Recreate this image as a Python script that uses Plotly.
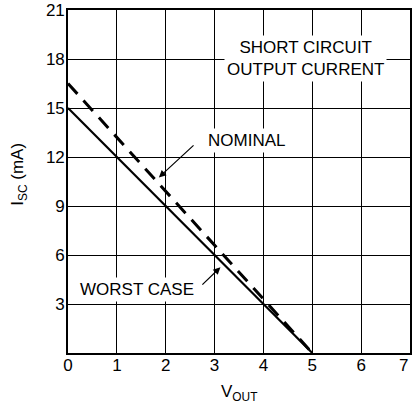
import plotly.graph_objects as go

# Short-circuit output current vs. output voltage
v_out = [0, 5]
isc_worst = [15, 0]
isc_nominal = [16.5, 0]

x_ticks = [0, 1, 2, 3, 4, 5, 6, 7]
y_ticks = [3, 6, 9, 12, 15, 18, 21]

FONT = "Liberation Sans, Arial, sans-serif"
TXT = dict(family=FONT, size=17, color="black")

fig = go.Figure()

fig.add_trace(go.Scatter(
    x=v_out, y=isc_worst, mode="lines",
    line=dict(color="black", width=2.2), hoverinfo="skip", showlegend=False,
))
fig.add_trace(go.Scatter(
    x=v_out, y=isc_nominal, mode="lines",
    line=dict(color="black", width=3, dash="14px,9px"), hoverinfo="skip", showlegend=False,
))

annotations = [
    # text labels on white boxes
    dict(x=4.86, y=18.05, xref="x", yref="y",
         text="SHORT CIRCUIT<br>OUTPUT CURRENT", showarrow=False,
         font=TXT, bgcolor="white", borderpad=2, align="center"),
    dict(x=3.65, y=13.0, xref="x", yref="y",
         text="NOMINAL", showarrow=False,
         font=TXT, bgcolor="white", borderpad=2),
    dict(x=1.41, y=3.86, xref="x", yref="y",
         text="WORST CASE", showarrow=False,
         font=TXT, bgcolor="white", borderpad=2),
    # leader arrows
    dict(x=1.86, y=10.75, xref="x", yref="y",
         ax=2.6, ay=12.8, axref="x", ayref="y",
         text="", showarrow=True, arrowhead=2, arrowsize=1.2,
         arrowwidth=1.2, arrowcolor="black"),
    dict(x=3.12, y=5.25, xref="x", yref="y",
         ax=2.72, ay=4.1, axref="x", ayref="y",
         text="", showarrow=True, arrowhead=2, arrowsize=1.2,
         arrowwidth=1.2, arrowcolor="black"),
    # last x tick label sits on the right edge of the figure
    dict(x=x_ticks[-1], y=0, xref="x", yref="paper", yshift=-12,
         text=str(x_ticks[-1]), showarrow=False, xanchor="right",
         yanchor="middle", font=TXT),
    # axis titles
    dict(x=-0.18, y=0.521, xref="paper", yref="paper",
         text="I<sub>SC</sub> (mA)", showarrow=False, textangle=-90,
         font=TXT),
    dict(x=0.5, y=-0.118, xref="paper", yref="paper",
         text="V<sub>OUT</sub>", showarrow=False, yanchor="middle",
         font=TXT),
]

fig.update_layout(
    width=413, height=407,
    margin=dict(l=68, r=1, t=10, b=54),
    paper_bgcolor="white", plot_bgcolor="white",
    annotations=annotations,
    xaxis=dict(
        range=[0, 7], tickvals=x_ticks[:-1], ticktext=[str(v) for v in x_ticks[:-1]],
        showgrid=True, gridcolor="black", gridwidth=1.4,
        showline=True, linecolor="black", linewidth=1.6, mirror=True,
        ticks="", zeroline=False, ticklabelstandoff=-4,
        tickfont=TXT,
    ),
    yaxis=dict(
        range=[0, 21], tickvals=y_ticks, ticktext=[str(v) for v in y_ticks],
        showgrid=True, gridcolor="black", gridwidth=1.4,
        showline=True, linecolor="black", linewidth=1.6, mirror=True,
        ticks="", zeroline=False, ticklabelstandoff=-2,
        tickfont=TXT,
    ),
)

fig.write_html("out.html")
